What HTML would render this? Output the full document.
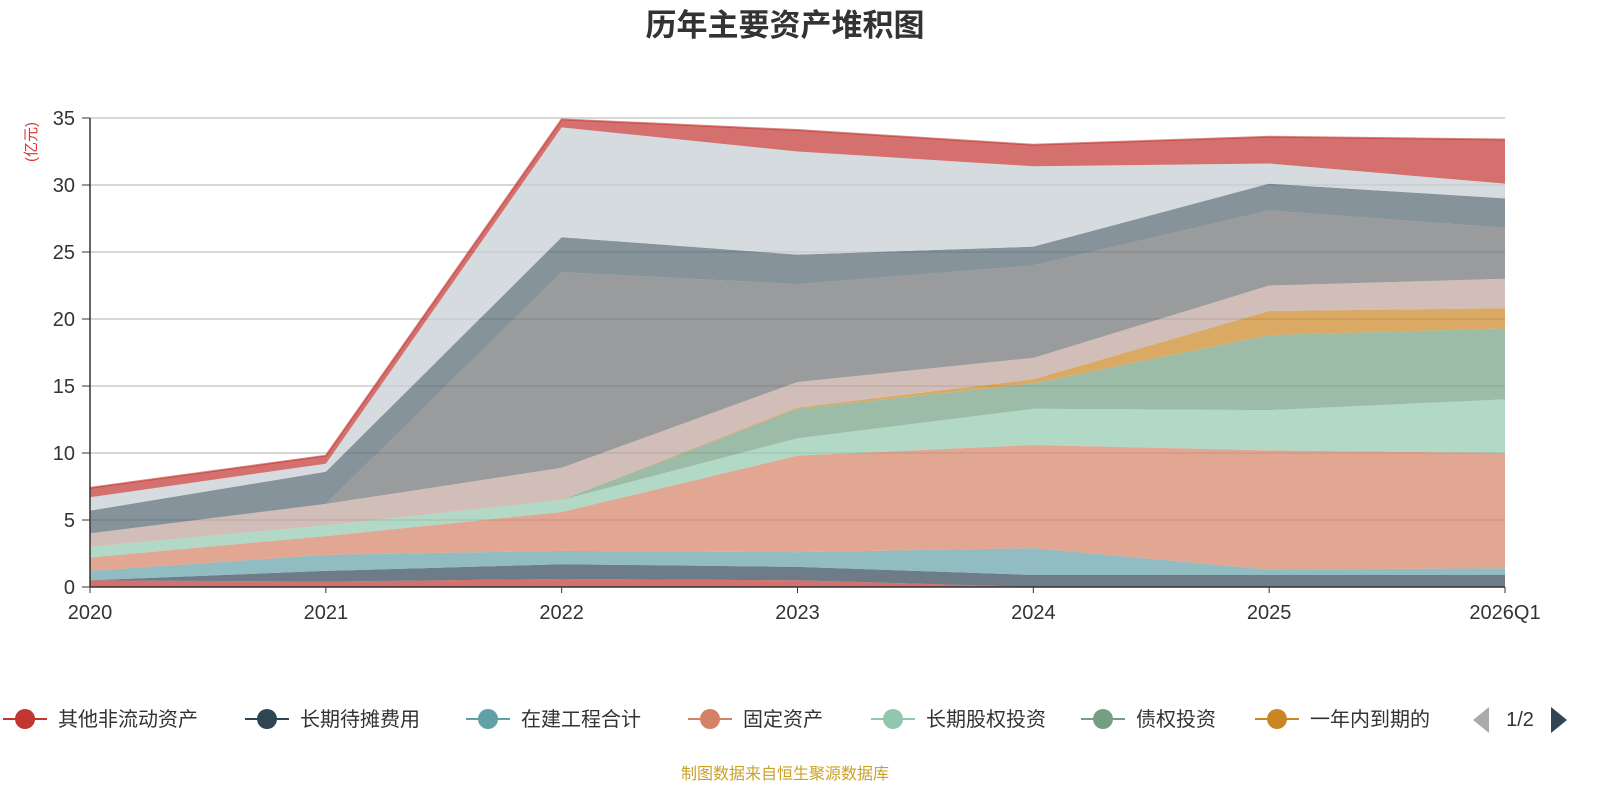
<!DOCTYPE html>
<html><head><meta charset="utf-8">
<style>
body{margin:0;background:#fff;font-family:"Liberation Sans","Noto Sans CJK SC",sans-serif;}
svg text{font-family:"Liberation Sans","Noto Sans CJK SC",sans-serif;}
</style></head>
<body>
<svg id="chart" width="1600" height="800">
<text x="785" y="36" text-anchor="middle" font-size="31" font-weight="bold" fill="#333">历年主要资产堆积图</text>
<text transform="translate(36,142) rotate(-90)" text-anchor="middle" font-size="15" fill="#e03030">(亿元)</text>
<g id="grid"></g><g id="areas"></g><g id="axes"></g><g id="legend"></g>
<text x="785" y="779" text-anchor="middle" font-size="16" fill="#c9a227">制图数据来自恒生聚源数据库</text>
</svg>
<script>
const categories=["2020","2021","2022","2023","2024","2025","2026Q1"];
const yTicks=[0,5,10,15,20,25,30,35];
const seriesNames=["其他非流动资产","长期待摊费用","在建工程合计","固定资产","长期股权投资","债权投资","一年内到期的","其他权益工具投资","其他非流动金融资产","无形资产","商誉","其他"];
const colors=["#c23531","#2f4554","#61a0a8","#d48265","#91c7ae","#749f83","#ca8622","#bda29a","#6e7074","#546570","#c4ccd3","#c23531"];
const s0=[0.5,0.4,0.6,0.5,0,0,0];
const s1=[0,0.8,1.1,1.0,0.9,0.9,0.9];
const s2=[0.7,1.2,1.0,1.1,2.0,0.4,0.5];
const s3=[1.0,1.4,2.9,7.2,7.7,8.9,8.6];
const s4=[0.8,0.8,0.9,1.3,2.7,3.0,4.0];
const s5=[0,0,0,2.2,1.9,5.6,5.3];
const s6=[0,0,0,0.1,0.3,1.8,1.5];
const s7=[1.0,1.6,2.4,1.9,1.6,1.9,2.2];
const s8=[0,0,14.6,7.3,6.9,5.6,3.8];
const s9=[1.7,2.4,2.6,2.2,1.4,2.0,2.2];
const s10=[1.0,0.6,8.2,7.7,6.0,1.5,1.1];
const s11=[0.7,0.6,0.6,1.6,1.6,2.0,3.3];
const allSeries=[s0,s1,s2,s3,s4,s5,s6,s7,s8,s9,s10,s11];
const NS="http://www.w3.org/2000/svg";
const X0=90,X1=1505,Y0=587,Y1=118,YMAX=35;
const xs=i=>X0+(X1-X0)*i/(categories.length-1);
const ys=v=>Y0-(Y0-Y1)*v/YMAX;
function mk(t,a,p){const e=document.createElementNS(NS,t);for(const k in a)e.setAttribute(k,a[k]);p.appendChild(e);return e;}
const grid=document.getElementById('grid'),axes=document.getElementById('axes'),areas=document.getElementById('areas'),legend=document.getElementById('legend');
yTicks.forEach(t=>{
 if(t>0){const l=mk('line',{x1:X0,x2:X1,y1:ys(t),y2:ys(t),stroke:'#ccc','stroke-width':1.5},grid);
 
 }
 const tx=mk('text',{x:75,y:ys(t)+7,'text-anchor':'end','font-size':20,fill:'#333'},axes);tx.textContent=t;
 
 
 const tk=mk('line',{x1:82,x2:X0,y1:ys(t),y2:ys(t),stroke:'#333'},axes);
 
 
});
const ya=mk('line',{x1:X0,x2:X0,y1:Y1,y2:Y0,stroke:'#333','stroke-width':1.5},axes);


const xa=mk('line',{x1:X0,x2:X1,y1:Y0,y2:Y0,stroke:'#333','stroke-width':1.5},axes);


categories.forEach((c,i)=>{
 const tx=mk('text',{x:xs(i),y:619,'text-anchor':'middle','font-size':20,fill:'#333'},axes);tx.textContent=c;
 
 
 const tk=mk('line',{x1:xs(i),x2:xs(i),y1:Y0,y2:Y0+6,stroke:'#333'},axes);
 
 
});
let base=categories.map(()=>0);
allSeries.forEach((s,k)=>{
 const top=base.map((b,i)=>b+s[i]);
 let d='M'+top.map((v,i)=>xs(i)+','+ys(v)).join(' L');
 for(let i=base.length-1;i>=0;i--)d+=' L'+xs(i)+','+ys(base[i]);
 const p=mk('path',{d:d+'Z',fill:colors[k],'fill-opacity':0.7,stroke:'none'},areas);
 
 
 if(k===allSeries.length-1){
  const ln=mk('polyline',{points:top.map((v,i)=>xs(i)+','+ys(v)).join(' '),fill:'none',stroke:colors[k],'stroke-width':2,'stroke-opacity':0.6},areas);
  
  
 }
 base=top;
});
const lx=[3,245,466,688,871,1081,1255];
for(let k=0;k<7;k++){
 const g=mk('g',{},legend);
 
 
 mk('line',{x1:lx[k],x2:lx[k]+44,y1:719,y2:719,stroke:colors[k],'stroke-width':2},g);
 mk('circle',{cx:lx[k]+22,cy:719,r:10,fill:colors[k]},g);
 const t=mk('text',{x:lx[k]+55,y:726,'font-size':20,fill:'#333'},g);t.textContent=seriesNames[k];
}
const pl=mk('path',{d:'M1489,707 L1473,720 L1489,733Z',fill:'#aaa'},legend);


const pt=mk('text',{x:1520,y:726,'text-anchor':'middle','font-size':20,fill:'#333'},legend);pt.textContent='1/2';


const pn=mk('path',{d:'M1551,707 L1567,720 L1551,733Z',fill:'#2f4554'},legend);


</script>
</body></html>
